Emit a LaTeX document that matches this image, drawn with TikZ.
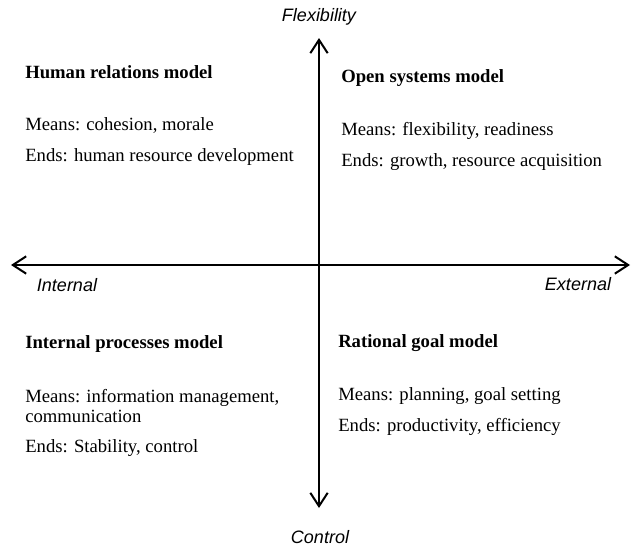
\documentclass[tikz,border=0pt]{standalone}
\usepackage{fontspec}
\setmainfont{Liberation Serif}
\setsansfont{Liberation Sans}
\usetikzlibrary{arrows.meta}

\begin{document}
\begin{tikzpicture}[%
        x=0.75pt, y=-0.75pt,
        achse/.style={<->, line width=1.5pt},
        achstext/.style={inner sep=0pt, font=\sffamily\itshape\fontsize{13.5}{16}\selectfont},
        titel/.style={anchor=base west, inner sep=0pt, font=\bfseries\fontsize{14}{16}\selectfont},
        eintrag/.style={anchor=base west, inner sep=0pt, font=\fontsize{14}{16}\selectfont},
        >={Straight Barb[length=10pt,width=13pt]} % Pfeilspitzen
        ]
            \useasboundingbox (0,0) rectangle (631,546);

            % Achsen
            \coordinate (N) at (319,38);
            \coordinate (S) at (319,508);
            \coordinate (W) at (11,265);
            \coordinate (E) at (630,265);
            \draw [achse] (W) -- (E);
            \draw [achse] (S) -- (N);

            % Achsenbeschriftung
            \node [achstext] (flex) at (319,17)  {Flexibility};
            \node [achstext] (ctrl) at (320,537) {Control};
            \node [achstext] (int)  at (67,285)  {Internal};
            \node [achstext] (ext)  at (578,284) {External};

            % Quadranten
            \node [titel]   (HR)   at (25,78)   {Human relations model};
            \node [eintrag] (HRm)  at (25,130)  {Means: cohesion, morale};
            \node [eintrag] (HRe)  at (25,161)  {Ends: human resource development};

            \node [titel]   (OS)   at (341,82)  {Open systems model};
            \node [eintrag] (OSm)  at (341,135) {Means: flexibility, readiness};
            \node [eintrag] (OSe)  at (341,166) {Ends: growth, resource acquisition};

            \node [titel]   (IP)   at (25,348)  {Internal processes model};
            \node [eintrag] (IPm)  at (25,402)  {Means: information management,};
            \node [eintrag] (IPm2) at (25,422)  {communication};
            \node [eintrag] (IPe)  at (25,452)  {Ends: Stability, control};

            \node [titel]   (RG)   at (338,347) {Rational goal model};
            \node [eintrag] (RGm)  at (338,400) {Means: planning, goal setting};
            \node [eintrag] (RGe)  at (338,431) {Ends: productivity, efficiency};
\end{tikzpicture}
\end{document}
